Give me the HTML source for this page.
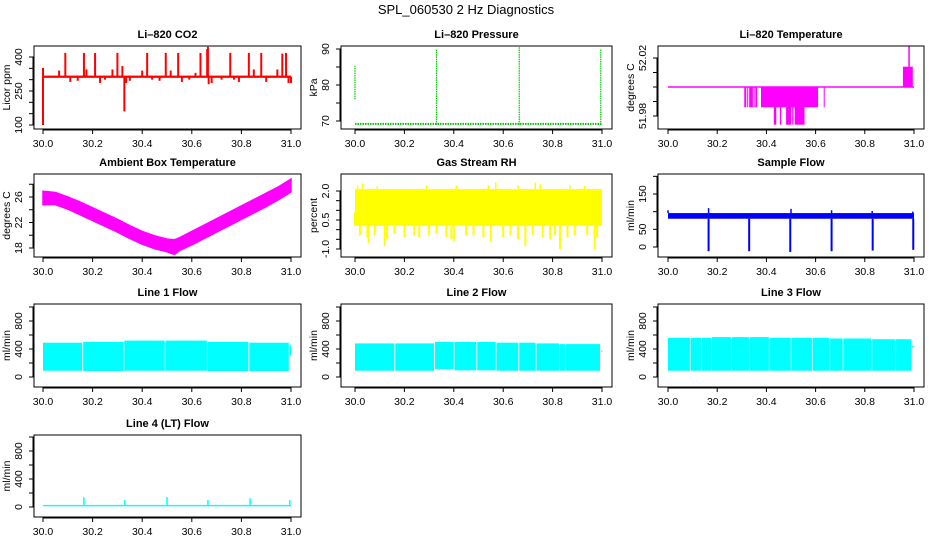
<!DOCTYPE html>
<html><head><meta charset="utf-8">
<style>
html,body{margin:0;padding:0;background:#fff;}
svg{display:block;font-family:"Liberation Sans",Arial,sans-serif;}
.pt{font-size:11px;font-weight:bold;text-anchor:middle;}
.tl{font-size:10.5px;text-anchor:middle;}
</style></head>
<body>
<svg id="root" width="936" height="540" viewBox="0 0 936 540">
<rect width="936" height="540" fill="#fff"/>
<text x="466" y="14" font-size="13" text-anchor="middle">SPL_060530  2 Hz Diagnostics</text>
</svg>
<script>
// ---------- data ----------
const xTicks=[30.0,30.2,30.4,30.6,30.8,31.0];
const xTickLabels=["30.0","30.2","30.4","30.6","30.8","31.0"];
// CO2
const co2Base=[308,318];
const co2EvtT=[30.0,30.0,30.065,30.09,30.11,30.14,30.165,30.175,30.21,30.23,30.25,30.28,30.30,30.32,30.328,30.335,30.35,30.40,30.42,30.44,30.47,30.495,30.515,30.545,30.56,30.59,30.615,30.635,30.662,30.665,30.668,30.68,30.72,30.755,30.77,30.79,30.83,30.85,30.88,30.90,30.945,30.965,30.98,30.99,31.0];
const co2EvtV=[100,352,340,418,290,295,418,345,418,285,300,345,418,360,160,285,295,340,418,300,295,418,340,418,290,300,330,418,435,445,280,285,300,418,300,290,418,345,418,290,345,415,418,285,285];
// Pressure
const presBase=69.2;
const presSpikeT=[30.0,30.33,30.665,30.995];
const presSpikeLo=[76,69,69,69];
const presSpikeHi=[85.5,90,90.5,90];
// Li-820 temperature
const tempBase=52.0;
const tempBlkStart=[30.31,30.322,30.33,30.348,30.355,30.378,30.43,30.455,30.48,30.505,30.515,30.57,30.585,30.633,30.955];
const tempBlkEnd=[30.318,30.326,30.345,30.352,30.362,30.61,30.44,30.46,30.50,30.51,30.555,30.575,30.59,30.636,30.995];
const tempBlkVal=[51.986,51.986,51.986,51.986,51.986,51.986,51.974,51.974,51.974,51.974,51.974,51.986,51.986,51.986,52.014];
const tempSpikeT=[30.98];
const tempSpikeV=[52.028];
// Ambient box temperature
const ambT=[30.0,30.05,30.1,30.15,30.2,30.25,30.3,30.35,30.4,30.45,30.5,30.53,30.55,30.6,30.65,30.7,30.75,30.8,30.85,30.9,30.95,31.0];
const ambHi=[26.9,26.7,26.0,25.2,24.3,23.4,22.5,21.5,20.6,19.9,19.4,19.3,19.6,20.6,21.6,22.6,23.6,24.6,25.6,26.6,27.6,28.8];
const ambLo=[24.8,24.8,24.1,23.2,22.3,21.4,20.5,19.5,18.6,17.9,17.4,17.0,17.6,18.5,19.5,20.5,21.5,22.5,23.5,24.5,25.6,26.8];
// Gas stream RH
const rhBand=[0.2,2.1];
const rhHiT=[30.01,30.03,30.09,30.29,30.41,30.54,30.57,30.66,30.73,30.75,30.87,30.93];
const rhHiV=[2.3,2.4,2.25,2.3,2.3,2.3,2.45,2.3,2.45,2.35,2.3,2.25];
const rhLoT=[30.0,30.02,30.05,30.055,30.08,30.12,30.13,30.16,30.2,30.24,30.26,30.3,30.33,30.37,30.39,30.40,30.45,30.48,30.52,30.55,30.6,30.63,30.66,30.69,30.72,30.76,30.79,30.81,30.83,30.86,30.89,30.94,30.97,30.98];
const rhLoV=[0.9,-0.3,-0.4,-0.7,-0.3,-0.85,-0.5,-0.2,-0.4,-0.3,-0.4,-0.3,-0.2,-0.4,-0.5,-0.6,-0.3,-0.3,-0.4,-0.6,-0.4,-0.3,-0.5,-0.85,-0.3,-0.4,-0.5,-0.3,-1.0,-0.4,-0.3,-0.3,-1.0,-0.4];
// Sample flow
const sfBand=[80,96];
const sfHiT=[30.0,30.165,30.5,30.665,30.83,30.995];
const sfHiV=[104,110,108,104,102,100];
const sfDipT=[30.165,30.33,30.497,30.665,30.832,30.997];
const sfDipV=[-12,-12,-14,-12,-10,-8];
// Line flows
const l1Start=[30.0,30.162,30.328,30.495,30.665,30.832,30.996];
const l1End=[30.158,30.324,30.491,30.661,30.828,30.991,31.0];
const l1Hi=[490,500,520,520,500,490,460];
const l1Lo=[90,85,90,90,85,85,300];
const l2Start=[30.0,30.163,30.324,30.403,30.495,30.573,30.665,30.735,30.830,30.854,30.997];
const l2End=[30.159,30.320,30.399,30.491,30.569,30.661,30.731,30.826,30.850,30.992,31.0];
const l2Hi=[480,480,500,500,500,490,490,480,470,470,380];
const l2Lo=[90,90,110,95,95,90,90,90,90,90,360];
const l3Start=[30.0,30.092,30.137,30.178,30.259,30.332,30.413,30.502,30.588,30.659,30.713,30.830,30.927,30.992];
const l3End=[30.089,30.134,30.175,30.256,30.329,30.410,30.499,30.585,30.656,30.710,30.827,30.924,30.989,31.0];
const l3Hi=[560,560,560,570,570,570,560,560,560,550,550,540,540,440];
const l3Lo=[90,90,90,90,90,90,90,90,90,90,90,90,90,420];
const l4Base=[10,30];
const l4SpikeT=[30.165,30.33,30.5,30.665,30.835,30.995];
const l4SpikeV=[140,100,140,100,125,100];

// ---------- layout ----------
const NS="http://www.w3.org/2000/svg";
const root=document.getElementById('root');
const cols=[{x0:34,x1:301,a:43,b:291},{x0:341,x1:612,a:355,b:602},{x0:658,x1:924,a:668,b:914}];
const rows=[{y0:46,y1:129},{y0:174,y1:257},{y0:304,y1:387},{y0:435,y1:517}];
function mk(tag,attrs,parent){const e=document.createElementNS(NS,tag);for(const k in attrs)e.setAttribute(k,attrs[k]);(parent||root).appendChild(e);return e;}

function panel(name,title,ylab,c,r,yt,ylabels,v1,p1,v2,p2){
  const C=cols[c],R=rows[r];
  const g=mk('g',{});
  
  
  const sx=v=>C.a+(v-30)*(C.b-C.a);
  const sy=v=>p1+(v-v1)*(p2-p1)/(v2-v1);
  const t=mk('text',{x:(C.x0+C.x1)/2,y:R.y0-8,class:'pt'},g);t.textContent=title;
  
  
  const plot=mk('g',{},g);
  
  
  const xa=mk('g',{},g);
  
  
  mk('line',{x1:sx(xTicks[0]),x2:sx(xTicks[xTicks.length-1]),y1:R.y1+1,y2:R.y1+1,stroke:'#000'},xa);
  xTicks.forEach((v,i)=>{
    mk('line',{x1:sx(v),x2:sx(v),y1:R.y1,y2:R.y1+5,stroke:'#000'},xa);
    const tx=mk('text',{x:sx(v),y:R.y1+18,class:'tl'},xa);tx.textContent=xTickLabels[i];
  });
  const ya=mk('g',{},g);
  
  
  mk('line',{x1:C.x0-1,x2:C.x0-1,y1:sy(yt[0]),y2:sy(yt[yt.length-1]),stroke:'#000'},ya);
  yt.forEach(v=>mk('line',{x1:C.x0-5,x2:C.x0,y1:sy(v),y2:sy(v),stroke:'#000'},ya));
  ylabels.forEach(l=>{
    const yy=sy(parseFloat(l));
    const tx=mk('text',{x:C.x0-15,y:yy,class:'tl','dominant-baseline':'central',transform:`rotate(-90 ${C.x0-15} ${yy})`},ya);tx.textContent=l;
  });
  const yl=mk('text',{x:C.x0-27,y:(R.y0+R.y1)/2,class:'tl','dominant-baseline':'central',transform:`rotate(-90 ${C.x0-27} ${(R.y0+R.y1)/2})`},g);
  yl.textContent=ylab;
  
  
  const box=mk('rect',{x:C.x0,y:R.y0,width:C.x1-C.x0,height:R.y1-R.y0,fill:'none',stroke:'#000','stroke-width':1},g);
  
  
  return {sx,sy,plot};
}
function vline(p,x,ya,yb,col,w){return mk('line',{x1:x,x2:x,y1:ya,y2:yb,stroke:col,'stroke-width':w||1.5},p);}
function rect(p,xa,xb,ya,yb,col){return mk('rect',{x:Math.min(xa,xb),y:Math.min(ya,yb),width:Math.max(1,Math.abs(xb-xa)),height:Math.max(1,Math.abs(yb-ya)),fill:col},p);}

// CO2
(function(){
  const P=panel('co2','Li\u2013820 CO2','Licor ppm',0,0,[100,150,200,250,300,350,400],['100','250','400'],100,125,400,57);
  const b=rect(P.plot,P.sx(30.0),P.sx(31.0),P.sy(co2Base[0]),P.sy(co2Base[1]),'#ff0000');
  
  co2EvtT.forEach((t,i)=>{
    const l=vline(P.plot,P.sx(t),P.sy(313),P.sy(co2EvtV[i]),'#ff0000',2);
    
  });
})();
// Pressure
(function(){
  const P=panel('pressure','Li\u2013820 Pressure','kPa',1,0,[70,75,80,85,90],['70','80','90'],70,121,90,49);
  const b=mk('line',{x1:P.sx(30.0),x2:P.sx(31.0),y1:P.sy(presBase),y2:P.sy(presBase),stroke:'#00c800','stroke-width':2,'stroke-dasharray':'1.5,1'},P.plot);
  
  presSpikeT.forEach((t,i)=>{
    const l=mk('line',{x1:P.sx(t),x2:P.sx(t),y1:P.sy(presSpikeLo[i]),y2:P.sy(presSpikeHi[i]),stroke:'#00c800','stroke-width':1.2,'stroke-dasharray':'1.5,0.8'},P.plot);
    
  });
})();
// Li-820 temperature
(function(){
  const P=panel('li820-temp','Li\u2013820 Temperature','degrees C',2,0,[51.98,51.99,52.0,52.01,52.02],['51.98','52.02'],51.98,116,52.02,58);
  const b=mk('line',{x1:P.sx(30.0),x2:P.sx(31.0),y1:P.sy(tempBase),y2:P.sy(tempBase),stroke:'#ff00ff','stroke-width':1.5},P.plot);
  
  tempBlkStart.forEach((s,i)=>{
    const r=rect(P.plot,P.sx(s),P.sx(tempBlkEnd[i]),P.sy(tempBase),P.sy(tempBlkVal[i]),'#ff00ff');
    
  });
  tempSpikeT.forEach((t,i)=>{
    const l=vline(P.plot,P.sx(t),P.sy(tempBase),P.sy(tempSpikeV[i]),'#ff00ff',1.5);
    
  });
})();
// Ambient
(function(){
  const P=panel('ambient-temp','Ambient Box Temperature','degrees C',0,1,[18,20,22,24,26,28],['18','22','26'],18,248,26,197);
  let pts=ambT.map((t,i)=>P.sx(t)+','+P.sy(ambHi[i]));
  pts=pts.concat(ambT.map((t,i)=>P.sx(t)+','+P.sy(ambLo[i])).reverse());
  const pg=mk('polygon',{points:pts.join(' '),fill:'#ff00ff',stroke:'#ff00ff','stroke-width':1.5},P.plot);
  
})();
// RH
(function(){
  const P=panel('gas-rh','Gas Stream RH','percent',1,1,[-1,-0.5,0,0.5,1,1.5,2],['-1.0','0.5','2.0'],-1,249,2,191);
  const b=rect(P.plot,P.sx(30.0),P.sx(31.0),P.sy(rhBand[0]),P.sy(rhBand[1]),'#ffff00');
  
  rhHiT.forEach((t,i)=>{const l=vline(P.plot,P.sx(t),P.sy(rhBand[1]),P.sy(rhHiV[i]),'#ffff00',1.5);
    });
  rhLoT.forEach((t,i)=>{const l=vline(P.plot,P.sx(t),P.sy(rhBand[0]),P.sy(rhLoV[i]),'#ffff00',2);
    });
})();
// Sample flow
(function(){
  const P=panel('sample-flow','Sample Flow','ml/min',2,1,[0,50,100,150,200],['0','50','150'],0,247,150,194);
  const b=rect(P.plot,P.sx(30.0),P.sx(31.0),P.sy(sfBand[0]),P.sy(sfBand[1]),'#0000ff');
  
  sfHiT.forEach((t,i)=>{const l=vline(P.plot,P.sx(t),P.sy(sfBand[1]),P.sy(sfHiV[i]),'#0000ff',1.5);
    });
  sfDipT.forEach((t,i)=>{const l=vline(P.plot,P.sx(t),P.sy(sfBand[0]),P.sy(sfDipV[i]),'#0000ff',2);
    });
})();
// Line flows
function flowPanel(name,title,c,r,st,en,hi,lo){
  const p0=r===3?507:377,p8=r===3?451:321;
  const P=panel(name,title,'ml/min',c,r,[0,200,400,600,800,1000],['0','400','800'],0,p0,800,p8);
  st.forEach((s,i)=>{
    const rr=rect(P.plot,P.sx(s),P.sx(en[i]),P.sy(lo[i]),P.sy(hi[i]),'#00ffff');
    
  });
  return P;
}
flowPanel('line1-flow','Line 1 Flow',0,2,l1Start,l1End,l1Hi,l1Lo);
flowPanel('line2-flow','Line 2 Flow',1,2,l2Start,l2End,l2Hi,l2Lo);
flowPanel('line3-flow','Line 3 Flow',2,2,l3Start,l3End,l3Hi,l3Lo);
(function(){
  const P=panel('line4-flow','Line 4 (LT) Flow','ml/min',0,3,[0,200,400,600,800,1000],['0','400','800'],0,507,800,451);
  const b=rect(P.plot,P.sx(30.0),P.sx(31.0),P.sy(l4Base[0]),P.sy(l4Base[1]),'#00ffff');
  
  l4SpikeT.forEach((t,i)=>{const l=vline(P.plot,P.sx(t),P.sy(l4Base[1]),P.sy(l4SpikeV[i]),'#00ffff',1.5);
    });
})();
</script>
</body></html>
